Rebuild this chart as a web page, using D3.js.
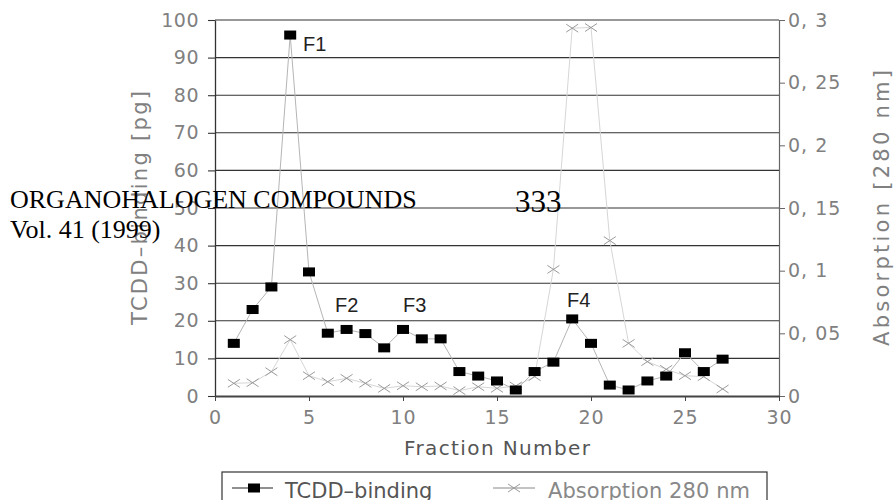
<!DOCTYPE html>
<html>
<head>
<meta charset="utf-8">
<script src="https://cdn.jsdelivr.net/npm/d3@7"></script>
<style>
  html, body { margin: 0; padding: 0; background: #fff; }
  svg { display: block; }
</style>
</head>
<body>
<svg id="chart" width="895" height="500"></svg>
<script>
// ---- data ----
const fractions = [1,2,3,4,5,6,7,8,9,10,11,12,13,14,15,16,17,18,19,20,21,22,23,24,25,26,27];
const tcddBinding = [14,23,29,96,33,16.7,17.7,16.6,12.8,17.7,15.2,15.2,6.5,5.3,4,1.6,6.5,9,20.5,14,2.9,1.6,4,5.3,11.5,6.5,9.8];
const absorption280 = [0.0101,0.0106,0.0194,0.045,0.0162,0.0114,0.0141,0.0101,0.0061,0.0082,0.0074,0.008,0.0043,0.0074,0.0061,0.008,0.0154,0.101,0.2935,0.294,0.124,0.042,0.0274,0.0213,0.0162,0.0154,0.0056];
const xTicks = [0,5,10,15,20,25,30];
const yLeftTicks = [0,10,20,30,40,50,60,70,80,90,100];
const yRightTicks = [0,0.05,0.1,0.15,0.2,0.25,0.3];
const yRightTickLabels = ["0","0, 05","0, 1","0, 15","0, 2","0, 25","0, 3"];
const peakLabels = ["F1","F2","F3","F4"];
const peakX = [4.68,6.38,10.0,18.72];
const peakY = [91.8,22.3,22.3,23.7];
const seriesNames = ["TCDD\u2013binding","Absorption 280 nm"];

// ---- layout ----
const W = 895, H = 500;
const m = {left:215, right:116, top:20, bottom:104};
const svg = d3.select("#chart");
const x = d3.scaleLinear().domain([0,30]).range([m.left, W - m.right]);
const yL = d3.scaleLinear().domain([0,100]).range([H - m.bottom, m.top]);
const yR = d3.scaleLinear().domain([0,0.3]).range([H - m.bottom, m.top]);

const tickFont = "DejaVu Sans, sans-serif";
const tickColor = "#808080";

// gridlines
svg.append("g").selectAll("line").data(yLeftTicks.filter(d => d > 0)).join("line")
  .attr("x1", x(0)).attr("x2", x(30))
  .attr("y1", d => yL(d)).attr("y2", d => yL(d))
  .attr("stroke", "#333").attr("stroke-width", 1.1);

// left axis
const gL = svg.append("g").attr("transform", `translate(${m.left},0)`)
  .call(d3.axisLeft(yL).tickValues(yLeftTicks).tickSize(7).tickSizeOuter(0).tickPadding(9).tickFormat(d3.format("d")));
gL.select(".domain").attr("stroke", "#333").attr("stroke-width", 1.3);
gL.selectAll(".tick line").attr("stroke", "#333").attr("stroke-width", 1.1);
gL.selectAll("text").attr("font-family", tickFont).attr("font-size", 19).attr("fill", tickColor).attr("letter-spacing", 0.5);

// right axis
const gR = svg.append("g").attr("transform", `translate(${W - m.right},0)`)
  .call(d3.axisRight(yR).tickValues(yRightTicks).tickSize(6).tickSizeOuter(0).tickPadding(3)
    .tickFormat((d,i) => yRightTickLabels[i]));
gR.select(".domain").attr("stroke", "#666").attr("stroke-width", 1.2);
gR.selectAll(".tick line").attr("stroke", "#666");
gR.selectAll("text").attr("font-family", tickFont).attr("font-size", 19).attr("fill", tickColor).attr("letter-spacing", 1).attr("xml:space","preserve");

// bottom axis
const gB = svg.append("g").attr("transform", `translate(0,${H - m.bottom})`)
  .call(d3.axisBottom(x).tickValues(xTicks).tickSize(5).tickSizeOuter(0).tickPadding(10).tickFormat(d3.format("d")));
gB.select(".domain").attr("stroke", "#444").attr("stroke-width", 2);
gB.selectAll(".tick line").attr("stroke", "#444");
gB.selectAll("text").attr("font-family", tickFont).attr("font-size", 19).attr("fill", tickColor).attr("letter-spacing", 1);

// axis titles
svg.append("text")
  .attr("transform", `translate(${m.left - 68},${(m.top + H - m.bottom)/2}) rotate(-90)`)
  .attr("text-anchor", "middle")
  .attr("font-family", tickFont).attr("font-size", 21).attr("fill", tickColor)
  .attr("textLength", 234).attr("lengthAdjust", "spacing")
  .text("TCDD\u2013binding [pg]");
svg.append("text")
  .attr("transform", `translate(${W - 6},${(m.top + H - m.bottom)/2}) rotate(-90)`)
  .attr("text-anchor", "middle")
  .attr("font-family", tickFont).attr("font-size", 21).attr("fill", tickColor)
  .attr("textLength", 276).attr("lengthAdjust", "spacing")
  .text("Absorption [280 nm]");
svg.append("text")
  .attr("x", (x(0) + x(30))/2).attr("y", 455)
  .attr("text-anchor", "middle")
  .attr("font-family", tickFont).attr("font-size", 20).attr("fill", "#555")
  .attr("textLength", 186).attr("lengthAdjust", "spacing")
  .text("Fraction Number");

// absorption series (drawn first, squares cover crosses)
const absPts = fractions.map((f,i) => [f, absorption280[i]]);
svg.append("path").datum(absPts)
  .attr("fill", "none").attr("stroke", "#d6d6d6").attr("stroke-width", 1)
  .attr("d", d3.line().x(d => x(d[0])).y(d => yR(d[1])));
const cross = (cx, cy, w, h) => `M${cx-w/2},${cy-h/2}L${cx+w/2},${cy+h/2}M${cx-w/2},${cy+h/2}L${cx+w/2},${cy-h/2}`;
svg.append("g").selectAll("path").data(absPts).join("path")
  .attr("d", d => cross(x(d[0]), yR(d[1]), 12, 8))
  .attr("stroke", "#9a9a9a").attr("stroke-width", 1).attr("fill", "none");

// TCDD series
const tPts = fractions.map((f,i) => [f, tcddBinding[i]]);
svg.append("path").datum(tPts)
  .attr("fill", "none").attr("stroke", "#b5b5b5").attr("stroke-width", 1)
  .attr("d", d3.line().x(d => x(d[0])).y(d => yL(d[1])));
svg.append("g").selectAll("rect").data(tPts).join("rect")
  .attr("x", d => x(d[0]) - 6).attr("y", d => yL(d[1]) - 4.5)
  .attr("width", 12).attr("height", 9).attr("fill", "#000");

// peak labels
svg.append("g").selectAll("text").data(peakLabels).join("text")
  .attr("x", (d,i) => x(peakX[i])).attr("y", (d,i) => yL(peakY[i]))
  .attr("font-family", "Liberation Sans, Arial, sans-serif").attr("font-size", 20).attr("fill", "#222")
  .text(d => d);

// legend
const leg = svg.append("g");
leg.append("rect").attr("x", 222).attr("y", 472).attr("width", 545).attr("height", 60)
  .attr("fill", "none").attr("stroke", "#333").attr("stroke-width", 1.2);
leg.append("line").attr("x1", 232).attr("x2", 273).attr("y1", 488).attr("y2", 488).attr("stroke", "#222").attr("stroke-width", 1.2);
leg.append("rect").attr("x", 248).attr("y", 483.5).attr("width", 12).attr("height", 9).attr("fill", "#000");
leg.append("text").attr("x", 285).attr("y", 498).attr("font-family", tickFont).attr("font-size", 21).attr("fill", "#555").text(seriesNames[0]);
leg.append("line").attr("x1", 493).attr("x2", 535).attr("y1", 488).attr("y2", 488).attr("stroke", "#888").attr("stroke-width", 1);
leg.append("path").attr("d", cross(514, 488, 12, 8)).attr("stroke", "#999").attr("fill", "none");
leg.append("text").attr("x", 548).attr("y", 498).attr("font-family", tickFont).attr("font-size", 21).attr("fill", "#888")
  .attr("textLength", 202).attr("lengthAdjust", "spacing").text(seriesNames[1]);

// page overlay text
const serif = "Liberation Serif, Times New Roman, serif";
svg.append("text").attr("x", 10).attr("y", 208).attr("font-family", serif).attr("font-size", 26).attr("fill", "#000")
  .text("ORGANOHALOGEN COMPOUNDS");
svg.append("text").attr("x", 10).attr("y", 238).attr("font-family", serif).attr("font-size", 26).attr("fill", "#000")
  .text("Vol. 41 (1999)");
svg.append("text").attr("x", 515).attr("y", 212).attr("font-family", serif).attr("font-size", 31).attr("fill", "#000")
  .text("333");
</script>
</body>
</html>
